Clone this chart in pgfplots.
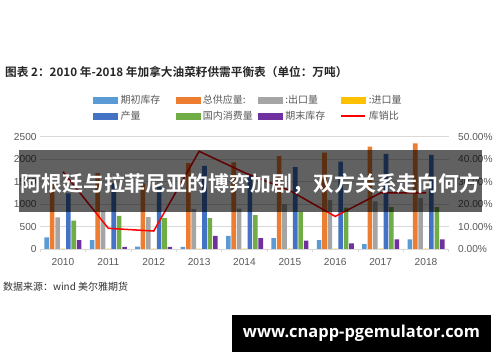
\documentclass[border=0pt]{standalone}
\usepackage{pgfplots}
\pgfplotsset{compat=1.18}
\usepackage{fontspec}
\setmainfont{Liberation Sans}
\newfontfamily\cjk[BoldFont={Noto Sans CJK SC Bold}]{Noto Sans CJK SC}
\newfontfamily\osans{Open Sans}
\definecolor{cA}{HTML}{5B9BD5}
\definecolor{cB}{HTML}{ED7D31}
\definecolor{cC}{HTML}{A5A5A5}
\definecolor{cD}{HTML}{FFC000}
\definecolor{cE}{HTML}{4472C4}
\definecolor{cF}{HTML}{70AD47}
\definecolor{cG}{HTML}{7030A0}
\definecolor{gridc}{HTML}{D9D9D9}
\definecolor{tickc}{HTML}{595959}
\begin{document}
\begin{tikzpicture}
\useasboundingbox (0bp,0bp) rectangle (500bp,362bp);
\fill[white] (0bp,0bp) rectangle (500bp,362bp);
\node[anchor=west, inner sep=0pt, font=\cjk\bfseries\fontsize{11.7}{14}\selectfont, text=black!85] at (5bp,290bp) {图表 2：2010 年-2018 年加拿大油菜籽供需平衡表（单位：万吨）};
\begin{axis}[
  at={(40.3bp,113bp)}, anchor=south west,
  scale only axis, width=408.4bp, height=112.3bp,
  xmin=-0.5, xmax=8.5, ymin=0, ymax=2500,
  axis x line*=bottom, axis y line*=left,
  x axis line style={draw=gridc, line width=0.7pt},
  y axis line style={draw=none},
  ytick={0,500,1000,1500,2000,2500},
  ymajorgrids, grid style={draw=gridc, line width=0.7pt},
  xtick={0,1,2,3,4,5,6,7,8},
  xticklabels={2010,2011,2012,2013,2014,2015,2016,2017,2018},
  minor xtick={-0.5,0.5,1.5,2.5,3.5,4.5,5.5,6.5,7.5,8.5},
  major tick length=0pt, minor tick length=3.5bp,
  xtick align=outside,
  minor x tick style={draw=gridc, line width=0.7pt},
  ytick style={draw=none},
  ticklabel style={font=\fontsize{10.2}{12}\selectfont, text=tickc, inner sep=0pt},
  yticklabel style={xshift=-3.5bp},
  xticklabel style={yshift=-9bp},
  /pgf/number format/assume math mode=true,
  /pgf/number format/1000 sep={},
  ybar=0.8bp, bar width=4.6bp,
]
\addplot[fill=cA, draw=none] coordinates {(0,260) (1,200) (2,55) (3,45) (4,290) (5,240) (6,200) (7,110) (8,215)};
\addplot[fill=cB, draw=none] coordinates {(0,1510) (1,1690) (2,1460) (3,1910) (4,1930) (5,2070) (6,2145) (7,2280) (8,2350)};
\addplot[fill=cC, draw=none] coordinates {(0,705) (1,850) (2,710) (3,890) (4,900) (5,1000) (6,1090) (7,1060) (8,1130)};
\addplot[fill=cD, draw=none] coordinates {(0,8) (1,8) (2,8) (3,8) (4,8) (5,8) (6,8) (7,8) (8,8)};
\addplot[fill=cE, draw=none] coordinates {(0,1240) (1,1460) (2,1390) (3,1850) (4,1640) (5,1820) (6,1945) (7,2115) (8,2095)};
\addplot[fill=cF, draw=none] coordinates {(0,630) (1,735) (2,690) (3,685) (4,755) (5,830) (6,920) (7,930) (8,930)};
\addplot[fill=cG, draw=none] coordinates {(0,200) (1,50) (2,50) (3,290) (4,240) (5,185) (6,125) (7,215) (8,215)};
\end{axis}
\begin{axis}[
  at={(40.3bp,113bp)}, anchor=south west,
  scale only axis, width=408.4bp, height=112.3bp,
  xmin=-0.5, xmax=8.5, ymin=0, ymax=50,
  axis y line*=right, axis x line=none,
  y axis line style={draw=none},
  ytick={0,10,20,30,40,50},
  ytick style={draw=none},
  major tick length=0pt,
  yticklabel={\pgfmathprintnumber[fixed,fixed zerofill,precision=2]{\tick}\%},
  yticklabel style={font=\fontsize{10.2}{12}\selectfont, text=tickc, inner sep=0pt, anchor=west, xshift=9.3bp},
  /pgf/number format/assume math mode=true,
  legend columns=4,
  legend cell align=left,
  legend style={at={(0.129,1.371)}, anchor=north west, draw=none, fill=none, inner sep=0pt,
    row sep=6bp, column sep=0pt,
    nodes={inner xsep=3bp, inner ysep=0pt, text height=8bp, text depth=2bp, text width=52bp, align=left,
      font=\cjk\fontsize{10}{12}\selectfont, text=tickc}},
]
\addlegendimage{legend image code/.code={\fill[cA] (0bp,-2.6bp) rectangle (24bp,2.6bp);}}
\addlegendimage{legend image code/.code={\fill[cB] (0bp,-2.6bp) rectangle (24bp,2.6bp);}}
\addlegendimage{legend image code/.code={\fill[cC] (0bp,-2.6bp) rectangle (24bp,2.6bp);}}
\addlegendimage{legend image code/.code={\fill[cD] (0bp,-2.6bp) rectangle (24bp,2.6bp);}}
\addlegendimage{legend image code/.code={\fill[cE] (0bp,-2.6bp) rectangle (24bp,2.6bp);}}
\addlegendimage{legend image code/.code={\fill[cF] (0bp,-2.6bp) rectangle (24bp,2.6bp);}}
\addlegendimage{legend image code/.code={\fill[cG] (0bp,-2.6bp) rectangle (24bp,2.6bp);}}
\addplot[red, line width=1.5pt, mark=none, legend image code/.code={\draw[red, line width=1.5pt] (0bp,0bp) -- (24bp,0bp);}]
  coordinates {(0,34.4) (1,9.2) (2,8.0) (3,43.5) (4,34) (5,26) (6,14.5) (7,25) (8,25)};
\legend{期初库存, 总供应量:, :出口量, :进口量, 产量, 国内消费量, 期末库存, 库销比}
\end{axis}
\fill[black, opacity=0.62] (19bp,150bp) rectangle (482bp,212bp);
\node[inner sep=0pt, font=\cjk\bfseries\fontsize{21}{24}\selectfont, text=white] at (250.5bp,178bp) {阿根廷与拉菲尼亚的博弈加剧，双方关系走向何方};
\node[anchor=west, inner sep=0pt, font=\cjk\fontsize{10}{12}\selectfont, text=black!80] at (3bp,75bp) {数据来源：wind 美尔雅期货};
\fill[black] (232bp,10bp) rectangle (491bp,47bp);
\node[inner sep=0pt, font=\osans\bfseries\fontsize{16.5}{20}\selectfont, text=white] at (361.5bp,28.5bp) {www.cnapp-pgemulator.com};
\end{tikzpicture}
\end{document}
